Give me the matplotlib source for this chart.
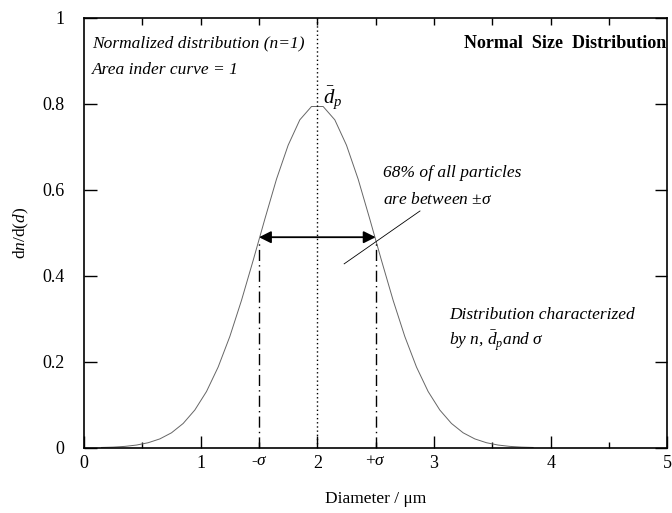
import matplotlib
matplotlib.use("Agg")
import matplotlib.pyplot as plt

# curve samples (diameter in um, dn/d(d))
diam = [0.15, 0.25, 0.35, 0.45, 0.55, 0.65, 0.75, 0.85, 0.95,
        1.05, 1.15, 1.25, 1.35, 1.45, 1.55, 1.65, 1.75, 1.85, 1.95,
        2.05, 2.15, 2.25, 2.35, 2.45, 2.55, 2.65, 2.75, 2.85, 2.95,
        3.05, 3.15, 3.25, 3.35, 3.45, 3.55, 3.65, 3.75, 3.85]
dens = [0.0009, 0.0017, 0.0034, 0.0065, 0.0119, 0.0208, 0.035, 0.0567, 0.088,
        0.131, 0.188, 0.259, 0.343, 0.436, 0.532, 0.625, 0.704, 0.763, 0.794,
        0.794, 0.763, 0.704, 0.625, 0.532, 0.436, 0.343, 0.259, 0.188, 0.131,
        0.088, 0.0567, 0.035, 0.0208, 0.0119, 0.0065, 0.0034, 0.0017, 0.0009]

mean_d = 2.0
sigma_lo = 1.5
sigma_hi = 2.5
sigma_top = 0.478
arrow_y = 0.49
leader_x = [2.23, 2.88]
leader_y = [0.428, 0.551]

x_ticks = [0, 1, 2, 3, 4, 5]
x_minor = [0.5, 1.5, 2.5, 3.5, 4.5]
y_ticks = [0, 0.2, 0.4, 0.6, 0.8, 1]
y_labels = ["0", "0.2", "0.4", "0.6", "0.8", "1"]


def main():
    plt.rcParams['font.family'] = ['Liberation Serif', 'DejaVu Serif']
    plt.rcParams['mathtext.fontset'] = 'custom'
    plt.rcParams['mathtext.rm'] = 'Liberation Serif'
    plt.rcParams['mathtext.it'] = 'Liberation Serif:italic'
    plt.rcParams['font.size'] = 12.5

    fig = plt.figure(figsize=(6.72, 5.13), dpi=100)
    ax = fig.add_axes([0.125, 0.127, 0.868, 0.838])

    # distribution curve
    ax.plot(diam, dens, color='#666666', lw=0.7)

    # mean line and sigma lines
    ax.plot([mean_d, mean_d], [0, 1], color='black', lw=1.0, ls=(0, (1, 2)))
    for s in (sigma_lo, sigma_hi):
        ax.plot([s, s], [0, sigma_top], color='black', lw=1.0,
                ls=(0, (8, 3, 1, 3)))

    ax.annotate('', xy=(sigma_hi, arrow_y), xytext=(sigma_lo, arrow_y),
                arrowprops=dict(arrowstyle='<|-|>', color='black', lw=1.3,
                                mutation_scale=18, shrinkA=0, shrinkB=0))
    ax.plot(leader_x, leader_y, color='black', lw=0.6)

    # text
    ax.text(0.07, 0.94, 'Normalized distribution (n=1)', style='italic',
            va='center')
    ax.text(0.07, 0.878, 'Area inder curve = 1', style='italic',
            va='center')
    ax.text(4.99, 0.94, 'Normal  Size  Distribution', fontweight='bold',
            fontsize=13, va='center', ha='right')
    ax.text(2.05, 0.815, r'$\bar{d}_p$', fontsize=15, va='center')
    ax.text(2.56, 0.64, '68% of all particles', style='italic',
            va='center')
    ax.text(2.56, 0.577, r'are between $\pm\sigma$', style='italic',
            va='center')
    ax.text(3.13, 0.31, 'Distribution characterized', style='italic',
            va='center')
    ax.text(3.13, 0.248, r'by n, $\bar{d}_p$and $\sigma$', style='italic',
            va='center')
    ax.text(sigma_lo, -0.012, r'-$\sigma$', ha='center', va='top')
    ax.text(sigma_hi, -0.012, r'+$\sigma$', ha='center', va='top')

    # axes
    ax.set_xlim(0, 5)
    ax.set_ylim(0, 1)
    ax.set_xticks(x_ticks)
    ax.set_xticks(x_minor, minor=True)
    ax.set_yticks(y_ticks)
    ax.set_yticklabels(y_labels)
    ax.tick_params(axis='x', which='major', direction='in', length=9,
                   width=1, labelsize=13, pad=5)
    ax.tick_params(axis='x', which='minor', direction='in', length=4,
                   width=1)
    ax.tick_params(axis='y', direction='in', length=9, width=1,
                   right=True, labelsize=13, pad=14)
    top = ax.secondary_xaxis('top')
    top.set_xticks(x_minor + x_ticks[1:-1])
    top.tick_params(direction='in', length=5, width=1, labeltop=False)
    top.spines['top'].set_visible(False)
    for sp in ax.spines.values():
        sp.set_linewidth(1.2)

    ax.set_xlabel('Diameter / \u03bcm', fontsize=12.5, labelpad=14)
    ax.set_ylabel(r'd$\it{n}$/d($\it{d}$)', fontsize=12.5, labelpad=8)

    fig.savefig('out.png', dpi=100)
    plt.close(fig)


if __name__ == "__main__":
    main()
